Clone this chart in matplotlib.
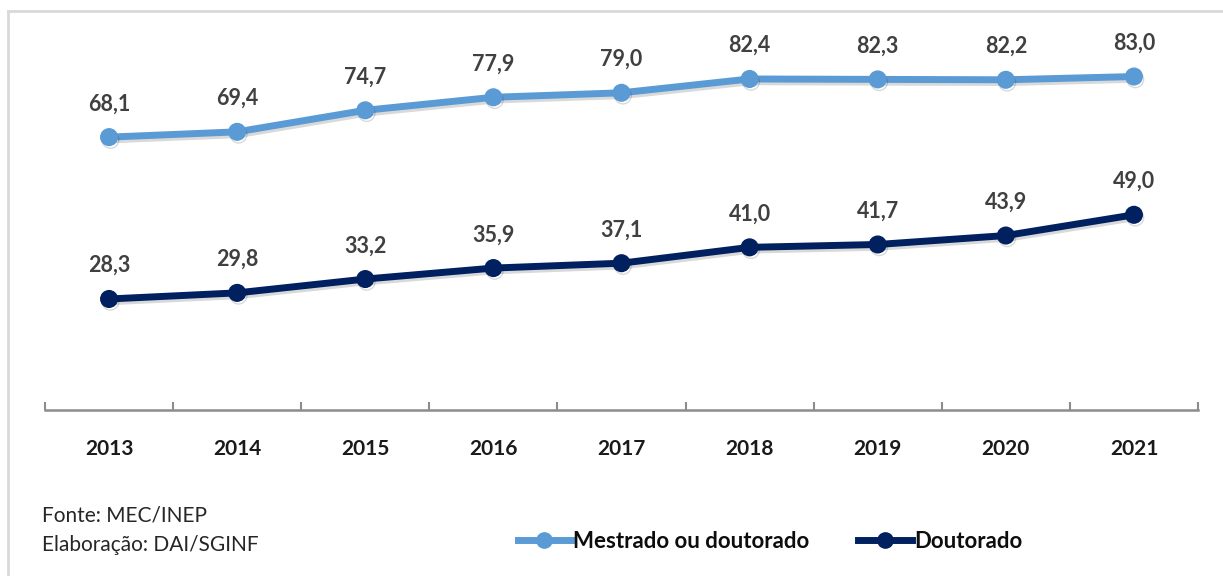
import matplotlib.pyplot as plt
import matplotlib.patheffects as pe
from matplotlib.lines import Line2D

anos = ['2013', '2014', '2015', '2016', '2017', '2018', '2019', '2020', '2021']
mestrado_ou_doutorado = [68.1, 69.4, 74.7, 77.9, 79.0, 82.4, 82.3, 82.2, 83.0]
doutorado = [28.3, 29.8, 33.2, 35.9, 37.1, 41.0, 41.7, 43.9, 49.0]

series = [
    ('Mestrado ou doutorado', mestrado_ou_doutorado, '#5B9BD5'),
    ('Doutorado', doutorado, '#002060'),
]

plt.rcParams['font.family'] = ['Lato', 'DejaVu Sans']

fig = plt.figure(figsize=(12.23, 5.76), dpi=100)
ax = fig.add_axes([45 / 1223, 166 / 576, 1153 / 1223, 366 / 576])

x = list(range(len(anos)))
shadow = [pe.SimpleLineShadow(offset=(1, -2), alpha=0.15), pe.Normal()]
for nome, valores, cor in series:
    ax.plot(x, valores, color=cor, linewidth=5, marker='o', markersize=12,
            label=nome, solid_capstyle='round', path_effects=shadow)
    for xi, v in zip(x, valores):
        ax.annotate(f'{v:.1f}'.replace('.', ','), (xi, v), xytext=(0, 24),
                    textcoords='offset points', ha='center', va='center',
                    fontsize=15.5, fontweight='bold', color='#404040')

ax.set_xlim(-0.5, len(anos) - 0.5)
ax.set_ylim(1, 91)
ax.set_yticks([])
for lado in ['top', 'right', 'left']:
    ax.spines[lado].set_visible(False)
ax.spines['bottom'].set_color('#8C8C8C')
ax.spines['bottom'].set_linewidth(1.8)

# category boundaries get the tick marks, labels sit in the middle
ax.set_xticks([i - 0.5 for i in range(len(anos) + 1)])
ax.set_xticklabels([])
ax.tick_params(axis='x', direction='in', length=6, width=1.5, color='#8C8C8C')
ax.set_xticks(x, minor=True)
ax.set_xticklabels(anos, minor=True, fontsize=15, fontweight='bold', color='#1a1a1a')
ax.tick_params(axis='x', which='minor', length=0, pad=21)

fig.text(42 / 1223, 1 - 515 / 576, 'Fonte: MEC/INEP', fontsize=15,
         color='#262626', va='center', ha='left')
fig.text(42 / 1223, 1 - 545 / 576, 'Elaboração: DAI/SGINF', fontsize=15,
         color='#262626', va='center', ha='left')

handles = [Line2D([], [], color=c, linewidth=5, marker='o', markersize=11)
           for _, _, c in series]
leg = fig.legend(handles, [s[0] for s in series], loc='center',
                 bbox_to_anchor=(770 / 1223, 1 - 541 / 576), ncol=2, frameon=False,
                 handlelength=2.4, handletextpad=0.1, columnspacing=2.2,
                 prop={'size': 16, 'weight': 'bold'})
for t in leg.get_texts():
    t.set_color('#0d0d0d')

# thin grey frame along the top and left of the chart area
fig.add_artist(Line2D([8 / 1223, 1], [1 - 11 / 576] * 2, color='#D9D9D9', linewidth=2))
fig.add_artist(Line2D([8 / 1223] * 2, [0, 1 - 11 / 576], color='#D9D9D9', linewidth=2))

fig.savefig('out.png', dpi=100, facecolor='white')
